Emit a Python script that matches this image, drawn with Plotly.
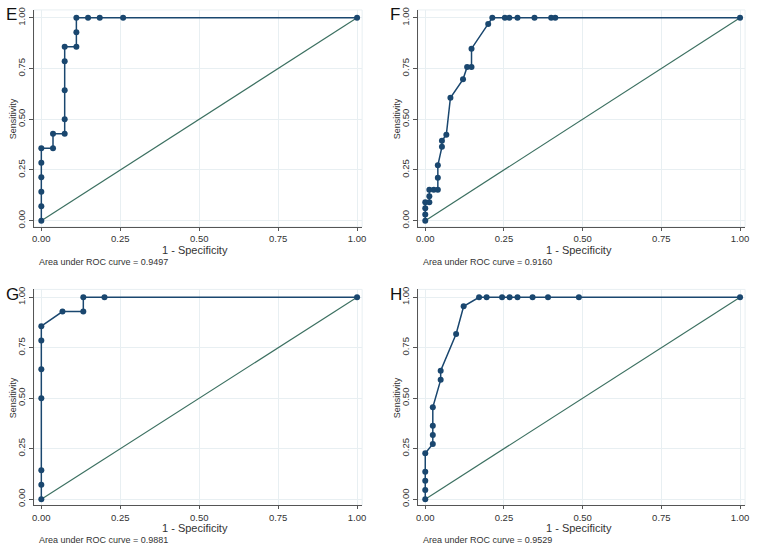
import plotly.graph_objects as go

# ROC points (1 - specificity, sensitivity)
e_fpr = [0, 0, 0, 0, 0, 0, 0.037, 0.037, 0.074, 0.074, 0.074, 0.074, 0.074,
         0.111, 0.111, 0.111, 0.148, 0.185, 0.259, 1]
e_tpr = [0, 0.071, 0.143, 0.214, 0.286, 0.357, 0.357, 0.429, 0.429, 0.5,
         0.643, 0.786, 0.857, 0.857, 0.929, 1, 1, 1, 1, 1]

f_fpr = [0, 0, 0, 0, 0.013, 0.013, 0.013, 0.027, 0.04, 0.04, 0.04, 0.053,
         0.053, 0.067, 0.08, 0.12, 0.133, 0.147, 0.147, 0.2, 0.213, 0.253,
         0.267, 0.293, 0.347, 0.4, 0.413, 1]
f_tpr = [0, 0.03, 0.061, 0.091, 0.091, 0.121, 0.152, 0.152, 0.152, 0.212,
         0.273, 0.364, 0.394, 0.424, 0.606, 0.697, 0.758, 0.758, 0.848, 0.97,
         1, 1, 1, 1, 1, 1, 1, 1]

g_fpr = [0, 0, 0, 0, 0, 0, 0, 0.067, 0.133, 0.133, 0.2, 1]
g_tpr = [0, 0.071, 0.143, 0.5, 0.643, 0.786, 0.857, 0.929, 0.929, 1, 1, 1]

h_fpr = [0, 0, 0, 0, 0, 0.024, 0.024, 0.024, 0.024, 0.049, 0.049, 0.098,
         0.122, 0.171, 0.195, 0.244, 0.268, 0.293, 0.341, 0.39, 0.488, 1]
h_tpr = [0, 0.045, 0.091, 0.136, 0.227, 0.273, 0.318, 0.364, 0.455, 0.591,
         0.636, 0.818, 0.955, 1, 1, 1, 1, 1, 1, 1, 1, 1]

panels = ["E", "F", "G", "H"]
auc = ["0.9497", "0.9160", "0.9881", "0.9529"]
ticks = [0, 0.25, 0.5, 0.75, 1]
tick_text = ["0.00", "0.25", "0.50", "0.75", "1.00"]

W, H = 760, 556
NAVY = "#1a476f"
DIAG = "#3c7061"
GRID = "#e8eff2"
AXIS = "#555555"
FONT = "Liberation Sans, Arial, sans-serif"

# pixel boxes of each plot region: left, right, top, bottom
boxes = [(32, 363, 7, 226), (419, 749, 7, 226),
         (32, 363, 289, 507), (419, 749, 289, 507)]
data = [(e_fpr, e_tpr), (f_fpr, f_tpr), (g_fpr, g_tpr), (h_fpr, h_tpr)]

fig = go.Figure()
layout = dict(width=W, height=H, margin=dict(l=0, r=0, t=0, b=0),
              paper_bgcolor="white", plot_bgcolor="white", showlegend=False,
              font=dict(family=FONT, color="#333333"))
annotations = []
shapes = []

for i, (name, (fx, ty)) in enumerate(zip(panels, data)):
    n = "" if i == 0 else str(i + 1)
    l, r, t, b = boxes[i]
    axis = dict(range=[-0.024, 1.016], tickvals=ticks, ticktext=tick_text,
                showgrid=True, gridcolor=GRID, gridwidth=1, zeroline=False,
                showline=True, linecolor=AXIS, linewidth=1, ticks="outside",
                ticklen=4, tickcolor=AXIS, tickfont=dict(size=9.5, color="#333333"))
    layout["xaxis" + n] = dict(axis, domain=[l / W, r / W], anchor="y" + n, ticklen=3)
    layout["yaxis" + n] = dict(axis, range=[-0.031, 1.039], tickangle=-90,
                               domain=[1 - b / H, 1 - t / H], anchor="x" + n)

    fig.add_trace(go.Scatter(x=[0, 1], y=[0, 1], mode="lines",
                             line=dict(color=DIAG, width=1.2),
                             xaxis="x" + n, yaxis="y" + n))
    fig.add_trace(go.Scatter(x=fx, y=ty, mode="lines+markers",
                             line=dict(color=NAVY, width=1.5),
                             marker=dict(color=NAVY, size=6),
                             xaxis="x" + n, yaxis="y" + n))

    shapes.append(dict(type="rect", xref="x" + n + " domain", yref="y" + n + " domain",
                       x0=0, x1=1, y0=0, y1=1, line=dict(color=GRID, width=1),
                       layer="below"))

    # panel letter
    annotations.append(dict(text=name, x=(l - 30) / W, y=1 - (t + 5) / H,
                            xref="paper", yref="paper", xanchor="left",
                            yanchor="middle", showarrow=False,
                            font=dict(size=17, color="#111111")))
    # axis titles
    annotations.append(dict(text="1 - Specificity", x=(l + r - 5) / 2 / W,
                            y=1 - (b + 23) / H, xref="paper", yref="paper",
                            xanchor="center", yanchor="middle", showarrow=False,
                            font=dict(size=11, color="#333333")))
    annotations.append(dict(text="Sensitivity", x=(l - 20) / W,
                            y=1 - (t + b) / 2 / H, xref="paper", yref="paper",
                            xanchor="center", yanchor="middle", textangle=-90,
                            showarrow=False, font=dict(size=9, color="#333333")))
    annotations.append(dict(text="Area under ROC curve = " + auc[i],
                            x=(l + 3) / W, y=1 - (b + 35) / H,
                            xref="paper", yref="paper", xanchor="left",
                            yanchor="middle", showarrow=False,
                            font=dict(size=9, color="#333333")))

layout["annotations"] = annotations
layout["shapes"] = shapes
fig.update_layout(**layout)
fig.write_html("out.html", config={"displayModeBar": False},
               post_script="document.body.style.margin = '0';")
